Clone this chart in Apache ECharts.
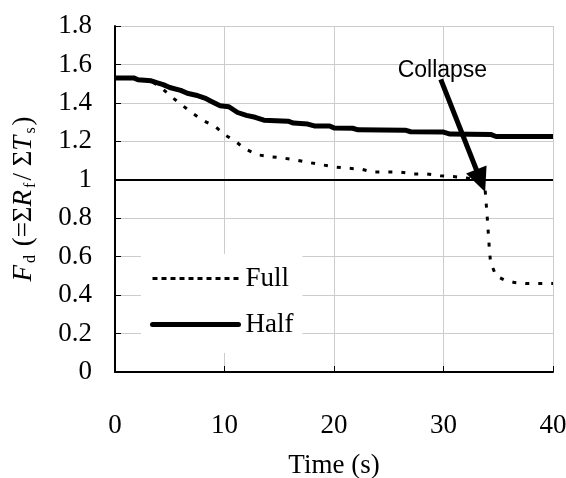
<!DOCTYPE html>
<html>
<head>
<meta charset="utf-8">
<script src="https://cdn.jsdelivr.net/npm/echarts@6/dist/echarts.min.js"></script>
<style>
html,body{margin:0;padding:0;background:#fff;}
#chart{width:566px;height:478px;}
</style>
</head>
<body>
<div id="chart"></div>
<script>
// Time (s), Fd values
const fullData = [
  [0,1.53],[1.7,1.53],[2.1,1.52],[3.3,1.515],[4.2,1.48],[5.2,1.43],[6.2,1.385],[7.0,1.35],
  [8.0,1.31],[9.2,1.275],[10.0,1.235],[11.0,1.2],[11.9,1.16],[13.0,1.13],[14.2,1.12],
  [15.4,1.113],[16.5,1.103],[17.7,1.09],[19.0,1.077],[20.2,1.066],[21.3,1.06],[22.5,1.055],
  [23.6,1.04],[26.1,1.04],[27.3,1.03],[28.5,1.03],[29.7,1.021],[30.9,1.017],[32.1,1.009],
  [33.4,0.995],[33.8,0.95],[34.0,0.8],[34.2,0.63],[34.3,0.57],[34.8,0.5],[35.5,0.48],
  [36.5,0.465],[37.5,0.46],[40,0.46]
];
const halfData = [
  [0,1.53],[1.7,1.53],[2.1,1.52],[3.3,1.515],[3.8,1.505],[4.4,1.495],[5.0,1.48],[6.0,1.465],
  [6.6,1.45],[7.4,1.44],[8.2,1.425],[8.9,1.405],[9.6,1.385],[10.4,1.38],[11.2,1.35],
  [12.0,1.335],[12.8,1.325],[13.6,1.31],[15.8,1.305],[16.3,1.295],[17.6,1.29],[18.2,1.28],
  [19.6,1.28],[20.0,1.27],[21.7,1.268],[22.2,1.26],[26.5,1.258],[27.0,1.25],[30.0,1.248],
  [30.6,1.238],[34.3,1.236],[34.8,1.225],[40,1.225]
];
const seriesNames = ['Full','Half'];
const threshold = 1;
const collapseLabel = 'Collapse';
const collapseTextAt = [29.9, 1.57];
const arrowFrom = [29.75, 1.522];
const arrowTo = [33.4, 0.995];
const xTicks = {min:0, max:40, interval:10};
const yTicks = {min:0, max:1.8, interval:0.2};

const serif = '"Liberation Serif","Times New Roman",serif';
const FS = 27;
const chart = echarts.init(document.getElementById('chart'));
chart.setOption({
  animation: false,
  backgroundColor: '#fff',
  grid: {left:115, right:13, top:26, bottom:106, containLabel:false, outerBoundsMode:'none'},
  legend: {
    orient: 'vertical',
    left: 141, top: 254,
    backgroundColor: '#fff',
    padding: [11, 9, 15, 9],
    itemWidth: 86, itemHeight: 20, itemGap: 19,
    textStyle: {fontFamily: serif, fontSize: FS, color: '#000', padding:[0,0,0,2]},
    data: [
      {name: seriesNames[0], itemStyle: {opacity: 0}, lineStyle: {type:[5,4], width:3, color:'#000'}},
      {name: seriesNames[1], itemStyle: {opacity: 0}, lineStyle: {width:5, color:'#000', cap:'round'}}
    ]
  },
  xAxis: {
    type: 'value', min: xTicks.min, max: xTicks.max, interval: xTicks.interval,
    name: 'Time (s)', nameLocation: 'middle', nameGap: 80,
    nameTextStyle: {fontFamily: serif, fontSize: FS, color:'#000'},
    axisLine: {lineStyle: {color:'#000', width:2}},
    axisTick: {inside: true, length: 6, lineStyle:{color:'#000'}},
    axisLabel: {fontFamily: serif, fontSize: FS, color:'#000', margin: 40},
    splitLine: {lineStyle: {color:'#cccccc', width:1}}
  },
  yAxis: {
    type: 'value', min: yTicks.min, max: yTicks.max, interval: yTicks.interval,
    name: '{i|F}{s|d}{n| (=Σ}{i|R}{s|f}{n|/ Σ}{i|T}{s|s}{n|)}',
    nameLocation: 'middle', nameGap: 76,
    nameTextStyle: {
      fontFamily: serif, fontSize: FS, color:'#000',
      rich: {
        i: {fontFamily: serif, fontSize: FS, fontStyle:'italic', color:'#000', lineHeight: 30},
        n: {fontFamily: serif, fontSize: FS, color:'#000', lineHeight: 30},
        s: {fontFamily: serif, fontSize: 16, color:'#000', verticalAlign:'bottom', lineHeight: 18, padding:[0,2,0,2]}
      }
    },
    axisLine: {show: true, lineStyle: {color:'#000', width:2}},
    axisTick: {show: true, inside: true, length: 6, lineStyle:{color:'#000'}},
    axisLabel: {fontFamily: serif, fontSize: FS, color:'#000', margin: 23},
    splitLine: {lineStyle: {color:'#cccccc', width:1}}
  },
  series: [
    {
      name: seriesNames[0], type: 'line', data: fullData, symbol: 'none',
      lineStyle: {color:'#000', width:3, type:[4,9]},
      itemStyle: {color:'#000'},
      z: 3,
      markLine: {
        silent: true, symbol: ['none','triangle'], symbolSize: [22, 24],
        lineStyle: {color:'#000', width:5, type:'solid'},
        label: {show:false},
        data: [[{coord: arrowFrom}, {coord: arrowTo}]]
      },
      markPoint: {
        silent: true, symbol: 'circle', symbolSize: 0,
        label: {show:true, position:'inside', formatter: collapseLabel,
          fontFamily: '"Liberation Sans",Arial,sans-serif', fontSize: 23, color:'#000'},
        data: [{coord: collapseTextAt}]
      }
    },
    {
      name: seriesNames[1], type: 'line', data: halfData, symbol: 'none',
      lineStyle: {color:'#000', width:5},
      itemStyle: {color:'#000'},
      z: 3,
      markLine: {
        silent: true, symbol: ['none','none'],
        lineStyle: {color:'#000', width:2, type:'solid'},
        label: {show:false},
        data: [{yAxis: threshold}]
      }
    }
  ]
});
</script>
</body>
</html>
